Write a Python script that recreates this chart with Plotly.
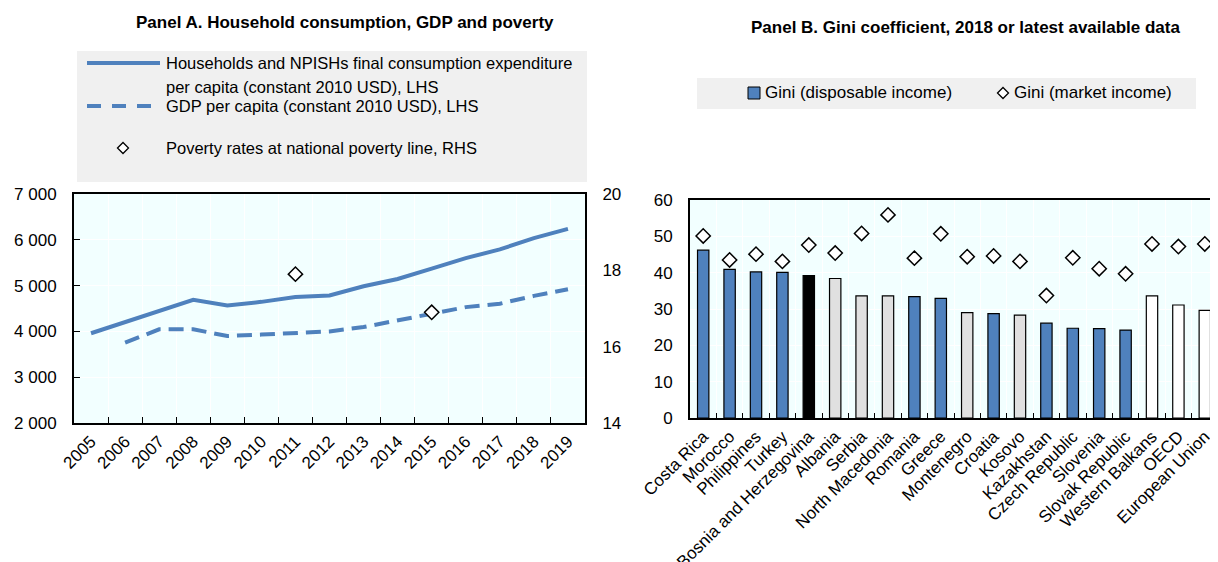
import plotly.graph_objects as go

# ---------------- data ----------------
years = ["2005", "2006", "2007", "2008", "2009", "2010", "2011", "2012",
         "2013", "2014", "2015", "2016", "2017", "2018", "2019"]
consumption = [3960, 4200, 4450, 4690, 4565, 4645, 4750, 4785, 4985, 5145,
               5370, 5600, 5790, 6036, 6240]
gdp = [None, 3755, 4045, 4045, 3900, 3930, 3960, 4000, 4095, 4240, 4390,
       4530, 4605, 4775, 4920]
poverty = [None, None, None, None, None, None, 17.9, None, None, None, 16.9,
           None, None, None, None]

left_ticks = [2000, 3000, 4000, 5000, 6000, 7000]
left_ticktext = ["2 000", "3 000", "4 000", "5 000", "6 000", "7 000"]
right_ticks = [14, 16, 18, 20]

countries = ["Costa Rica", "Morocco", "Philippines", "Turkey",
             "Bosnia and Herzegovina", "Albania", "Serbia", "North Macedonia",
             "Romania", "Greece", "Montenegro", "Croatia", "Kosovo",
             "Kazakhstan", "Czech Republic", "Slovenia", "Slovak Republic",
             "Western Balkans", "OECD", "European Union"]
gini_disposable = [46.2, 40.9, 40.2, 40.1, 39.2, 38.4, 33.6, 33.6, 33.4, 32.9,
                   29.0, 28.7, 28.3, 26.1, 24.7, 24.6, 24.2, 33.6, 31.1, 29.6]
gini_market = [50.1, 43.5, 45.1, 43.1, 47.6, 45.4, 50.8, 55.9, 44.0, 50.7,
               44.4, 44.6, 43.1, 33.7, 44.1, 41.1, 39.7, 47.9, 47.2, 47.9]
country_group = ["oecd", "oecd", "oecd", "oecd", "bih", "wb", "wb", "wb",
                 "oecd", "oecd", "wb", "oecd", "wb", "oecd", "oecd", "oecd",
                 "oecd", "agg", "agg", "agg"]

# ---------------- styling ----------------
OFF = 8  # default page body margin
W, H = 1218 - OFF, 562 - OFF
BLUE = "#4F81BD"
PLOTBG = "#F2FFFF"
LEGBG = "#F0F0F0"
FONT = "Liberation Sans Narrow, Arial Narrow, Liberation Sans, Arial, sans-serif"
group_colors = {"oecd": BLUE, "bih": "#000000", "wb": "#E0E0E0", "agg": "#FFFFFF"}


def px(x):
    return (x - OFF) / W


def py(y):
    return 1 - (y - OFF) / H


fig = go.Figure()

# Panel A
fig.add_trace(go.Scatter(x=years, y=consumption, mode="lines",
                         line=dict(color=BLUE, width=4),
                         xaxis="x", yaxis="y", showlegend=False))
fig.add_trace(go.Scatter(x=years, y=gdp, mode="lines",
                         line=dict(color=BLUE, width=4, dash="15px,8px"),
                         xaxis="x", yaxis="y", showlegend=False))
fig.add_trace(go.Scatter(x=years, y=poverty, mode="markers",
                         marker=dict(symbol="diamond", size=11, color="white",
                                     line=dict(color="black", width=1.5)),
                         xaxis="x", yaxis="y2", showlegend=False))

# Panel B
fig.add_trace(go.Bar(x=countries, y=gini_disposable, width=0.43,
                     marker=dict(color=[group_colors[g] for g in country_group],
                                 line=dict(color="black", width=1.2)),
                     xaxis="x2", yaxis="y3", showlegend=False))
fig.add_trace(go.Scatter(x=countries, y=gini_market, mode="markers",
                         marker=dict(symbol="diamond", size=11, color="white",
                                     line=dict(color="black", width=1.5)),
                         xaxis="x2", yaxis="y3", showlegend=False))

axis_font = dict(family=FONT, size=17, color="black")

fig.update_layout(
    width=W, height=H,
    margin=dict(l=0, r=0, t=0, b=0, autoexpand=False),
    paper_bgcolor="white",
    plot_bgcolor=PLOTBG,
    font=dict(family=FONT, size=17, color="black"),
    xaxis=dict(domain=[px(74), px(585)], type="category", tickson="boundaries",
               range=[-0.5, len(years) - 0.5],
               tickangle=-45, tickfont=axis_font, showgrid=True,
               gridcolor="white", gridwidth=1, ticks="inside", ticklen=6,
               tickcolor="black", showline=True, linecolor="black",
               linewidth=2, mirror=True, anchor="y", automargin=False),
    yaxis=dict(domain=[py(423), py(194)], range=[2000, 7000],
               tickvals=left_ticks, ticktext=left_ticktext, tickfont=axis_font,
               showgrid=True, gridcolor="white", gridwidth=1, ticks="inside",
               ticklen=6, tickcolor="black", showline=True, linecolor="black",
               linewidth=2, zeroline=False, anchor="x", automargin=False,
               ticklabelstandoff=12),
    yaxis2=dict(overlaying="y", side="right", range=[14, 20],
                tickvals=right_ticks, tickfont=axis_font, showgrid=False,
                showline=True, linecolor="black", linewidth=2,
                zeroline=False, anchor="x", ticks="", automargin=False,
                ticklabelstandoff=12),
    xaxis2=dict(domain=[px(690), 1.0], type="category", tickson="boundaries",
                range=[-0.5, len(countries) - 0.5],
                tickangle=-45, tickfont=axis_font, showgrid=True,
                gridcolor="white", gridwidth=1, ticks="inside", ticklen=5,
                tickcolor="black", showline=True, linecolor="black",
                linewidth=2, mirror=True, anchor="y3", automargin=False),
    yaxis3=dict(domain=[py(418), py(200)], range=[0, 60], dtick=10,
                tickfont=axis_font, showgrid=True, gridcolor="white",
                gridwidth=1, showline=True, linecolor="black", linewidth=2,
                zeroline=False, anchor="x2", ticks="", automargin=False,
                ticklabelstandoff=12),
    bargap=0.57,
)

shapes = []
annotations = []

title_font = dict(family=FONT, size=17, color="black")
# Titles
annotations.append(dict(text="<b>Panel A. Household consumption, GDP and poverty</b>",
                        x=px(345), y=py(22), xref="paper", yref="paper",
                        showarrow=False, font=title_font,
                        xanchor="center", yanchor="middle"))
annotations.append(dict(text="<b>Panel B. Gini coefficient, 2018 or latest available data</b>",
                        x=px(965), y=py(28), xref="paper", yref="paper",
                        showarrow=False, font=title_font,
                        xanchor="center", yanchor="middle"))

# Panel A legend
shapes.append(dict(type="rect", xref="paper", yref="paper",
                   x0=px(77), x1=px(587), y0=py(182), y1=py(51),
                   fillcolor=LEGBG, line=dict(width=0), layer="below"))
shapes.append(dict(type="line", xref="paper", yref="paper",
                   x0=px(87), x1=px(160), y0=py(63), y1=py(63),
                   line=dict(color=BLUE, width=4)))
shapes.append(dict(type="line", xref="paper", yref="paper",
                   x0=px(87), x1=px(160), y0=py(106), y1=py(106),
                   line=dict(color=BLUE, width=4, dash="14px,11px")))
dcx, dcy, dr = 123, 148, 5.5
shapes.append(dict(type="path", xref="paper", yref="paper",
                   path=f"M {px(dcx-dr)},{py(dcy)} L {px(dcx)},{py(dcy-dr)} L {px(dcx+dr)},{py(dcy)} L {px(dcx)},{py(dcy+dr)} Z",
                   fillcolor="white", line=dict(color="black", width=1.3)))
leg_font = dict(family=FONT, size=16.5, color="black")
annotations.append(dict(text="Households and NPISHs final consumption expenditure",
                        x=px(164), y=py(63), xref="paper", yref="paper",
                        showarrow=False, font=leg_font, xanchor="left", yanchor="middle"))
annotations.append(dict(text="per capita (constant 2010 USD), LHS",
                        x=px(164), y=py(87), xref="paper", yref="paper",
                        showarrow=False, font=leg_font, xanchor="left", yanchor="middle"))
annotations.append(dict(text="GDP per capita (constant 2010 USD), LHS",
                        x=px(164), y=py(106), xref="paper", yref="paper",
                        showarrow=False, font=leg_font, xanchor="left", yanchor="middle"))
annotations.append(dict(text="Poverty rates at national poverty line, RHS",
                        x=px(164), y=py(148), xref="paper", yref="paper",
                        showarrow=False, font=leg_font, xanchor="left", yanchor="middle"))

# Panel B legend
legb_font = dict(family=FONT, size=17, color="black")
shapes.append(dict(type="rect", xref="paper", yref="paper",
                   x0=px(697), x1=px(1196), y0=py(109), y1=py(78),
                   fillcolor=LEGBG, line=dict(width=0), layer="below"))
shapes.append(dict(type="rect", xref="paper", yref="paper",
                   x0=px(748), x1=px(760), y0=py(99), y1=py(87),
                   fillcolor=BLUE, line=dict(color="black", width=1)))
dcx, dcy, dr = 1003, 93, 5.5
shapes.append(dict(type="path", xref="paper", yref="paper",
                   path=f"M {px(dcx-dr)},{py(dcy)} L {px(dcx)},{py(dcy-dr)} L {px(dcx+dr)},{py(dcy)} L {px(dcx)},{py(dcy+dr)} Z",
                   fillcolor="white", line=dict(color="black", width=1.3)))
annotations.append(dict(text="Gini (disposable income)",
                        x=px(763), y=py(93), xref="paper", yref="paper",
                        showarrow=False, font=legb_font, xanchor="left", yanchor="middle"))
annotations.append(dict(text="Gini (market income)",
                        x=px(1012), y=py(93), xref="paper", yref="paper",
                        showarrow=False, font=legb_font, xanchor="left", yanchor="middle"))

fig.update_layout(shapes=shapes, annotations=annotations)

fig.write_html("out.html")
